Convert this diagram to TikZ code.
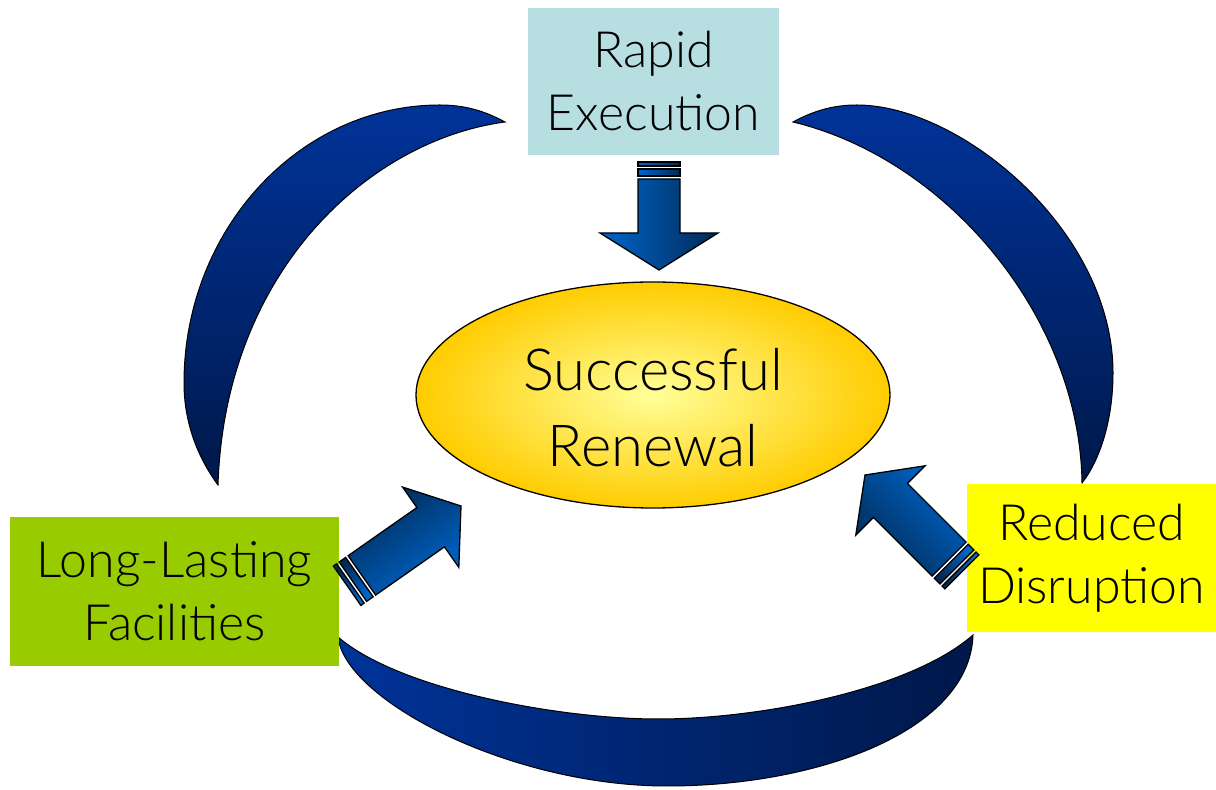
\documentclass[tikz,border=0pt]{standalone}
\usepackage{fontspec}
\IfFontExistsTF{Lato Light}{\setmainfont{Lato Light}}{\setmainfont{Lato}}
\usetikzlibrary{shapes.geometric}
\definecolor{boxcyan}{HTML}{B7DFE2}
\definecolor{boxgreen}{HTML}{99CC00}
\definecolor{boxyellow}{HTML}{FFFF00}
\definecolor{arctop}{HTML}{003399}
\definecolor{arcbot}{HTML}{00184A}
\definecolor{arrlight}{HTML}{0066CC}
\definecolor{arrdark}{HTML}{002A55}
\definecolor{ellin}{HTML}{FFFF99}
\definecolor{ellout}{HTML}{FFCC00}
\tikzset{
  arcshape/.style={draw=black, line width=1pt},
  arrowshape/.style={draw=black, line width=1.3pt, line join=miter},
  boxtext/.style={font=\fontsize{50}{63}\selectfont, align=center, text=black},
  infobox/.style={boxtext, rectangle, inner sep=0pt},
  goaltextstyle/.style={font=\fontsize{58}{76}\selectfont, align=center, text=black}
}
\begin{document}
\begin{tikzpicture}[x=1pt,y=1pt]
\useasboundingbox (0,0) rectangle (1216,790);
\fill[white] (0,0) rectangle (1216,790);

% left arc
\shade[arcshape, top color=arctop, bottom color=arcbot]
  (218,305) .. controls (196,335) and (184,370) .. (184,407)
  .. controls (184,560) and (299,685) .. (440,685)
  .. controls (470,685) and (490,676) .. (505,668)
  .. controls (370,650) and (225,520) .. (218,305) -- cycle;
% right arc
\shade[arcshape, top color=arctop, bottom color=arcbot]
  (793,668) .. controls (815,680) and (835,685) .. (857,685)
  .. controls (960,685) and (1113,560) .. (1113,417)
  .. controls (1113,370) and (1100,330) .. (1082,307)
  .. controls (1080,470) and (950,630) .. (793,668) -- cycle;
% bottom arc
\shade[arcshape, left color=arctop, right color=arcbot]
  (338,153) .. controls (400,100) and (560,71) .. (658,71)
  .. controls (760,71) and (910,100) .. (973,155)
  .. controls (970,60) and (820,4) .. (667,4)
  .. controls (510,4) and (345,90) .. (338,153) -- cycle;

% boxes
\node[infobox, fill=boxcyan, minimum width=251pt, minimum height=147pt] (rapid) at (653.5,708.5) {Rapid\\Execution};
\node[infobox, fill=boxgreen, minimum width=329pt, minimum height=149pt] (lasting) at (174.5,198.5) {Long-Lasting\\Facilities};
\node[infobox, fill=boxyellow, minimum width=249pt, minimum height=148pt] (reduced) at (1091.5,232) {Reduced\\Disruption};

% central ellipse
\node[ellipse, draw=black, line width=1.3pt, minimum width=474pt, minimum height=226pt, inner color=ellin, outer color=ellout] (goal) at (653,395) {};
\node[goaltextstyle] (goaltext) at ([yshift=-13pt]goal.center) {Successful\\Renewal};

% down arrow
\shade[arrowshape, left color=arrlight, right color=arrdark]
  (638,611) -- (680,611) -- (680,557) -- (718,557) -- (659,520) -- (600,557) -- (638,557) -- cycle;
\shade[arrowshape, left color=arrlight, right color=arrdark] (638,614) rectangle (680,621);
\shade[arrowshape, left color=arrlight, right color=arrdark] (638,624) rectangle (680,628);

% left arrow
\begin{scope}[shift={(461,284)}, rotate=35]
\shade[arrowshape, top color=arrdark, bottom color=arrlight, shading angle=35]
  (-121,24) -- (-37,24) -- (-37,49) -- (0,0) -- (-37,-49) -- (-37,-24) -- (-121,-24) -- cycle;
\shade[arrowshape, top color=arrdark, bottom color=arrlight, shading angle=35] (-132,-24) rectangle (-124,24);
\shade[arrowshape, top color=arrdark, bottom color=arrlight, shading angle=35] (-139,-24) rectangle (-135,24);
\end{scope}

% right arrow
\begin{scope}[shift={(865,315)}, rotate=135]
\shade[arrowshape, top color=arrdark, bottom color=arrlight, shading angle=135]
  (-119,24) -- (-36,24) -- (-36,49) -- (0,0) -- (-36,-49) -- (-36,-24) -- (-119,-24) -- cycle;
\shade[arrowshape, top color=arrdark, bottom color=arrlight, shading angle=135] (-130,-24) rectangle (-122,24);
\shade[arrowshape, top color=arrdark, bottom color=arrlight, shading angle=135] (-137,-24) rectangle (-133,24);
\end{scope}
\end{tikzpicture}
\end{document}
